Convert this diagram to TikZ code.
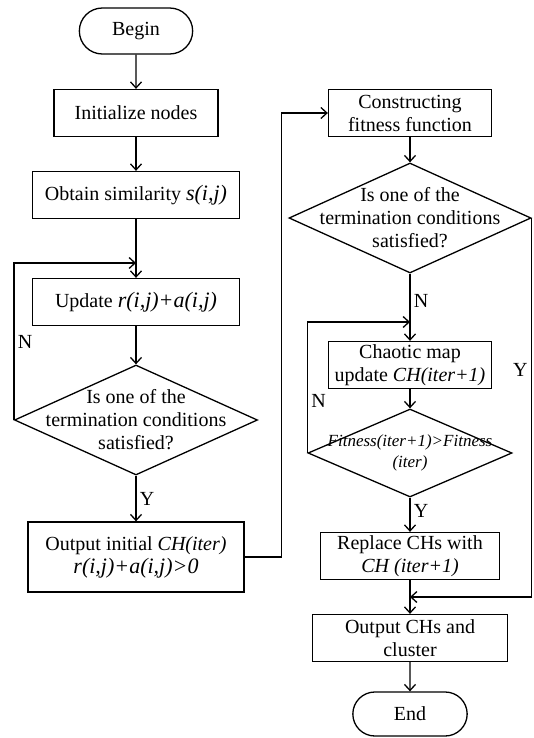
\documentclass[tikz,border=0pt]{standalone}
\usepackage{fontspec}
\setmainfont{Liberation Serif}
\usetikzlibrary{shapes.geometric, shapes.misc, arrows.meta}

\newcommand{\eqn}[1]{{\fontsize{22}{24}\selectfont\itshape #1}}

\begin{document}
\begin{tikzpicture}[
  x=1pt, y=-1pt,
  font=\fontsize{20}{23}\selectfont,
  proc/.style={draw, line width=1.3pt, minimum width=#1, minimum height=47pt, align=center, inner sep=2pt},
  proc/.default=160pt,
  term/.style={draw, rounded rectangle, line width=1.3pt, minimum width=120pt, minimum height=46pt},
  dec/.style={draw, diamond, line width=1.3pt, inner sep=0pt},
  arr/.style={-{Straight Barb[length=6pt, width=11pt]}, line width=1.3pt},
]
\useasboundingbox (0,0) rectangle (533,738);

% Left column
\node[term] (begin) at (136,31) {Begin};
\node[proc=164pt] (init) at (136,113) {Initialize nodes};
\node[proc=207pt] (sim) at (136,195) {Obtain similarity \eqn{s(i,j)}};
\node[proc=207pt] (upd) at (136,302) {Update \eqn{r(i,j)+a(i,j)}};
\node[dec, minimum width=243pt, minimum height=110pt,
  label={[align=center]center:Is one of the\\termination conditions\\satisfied?}] (d1) at (136,420) {};
\node[proc=216pt, minimum height=70pt] (out1) at (136,557) {Output initial \textit{CH(iter)}\\\eqn{r(i,j)+a(i,j)>0}};

% Right column
\node[proc=163pt] (fit) at (410,113) {Constructing\\fitness function};
\node[dec, minimum width=242pt, minimum height=110pt,
  label={[align=center]center:Is one of the\\termination conditions\\satisfied?}] (d2) at (410,218) {};
\node[proc=163pt] (chaos) at (410,365) {Chaotic map\\update \textit{CH(iter+1)}};
\node[dec, minimum width=204pt, minimum height=88pt,
  label={[align=center, font=\fontsize{17}{21}\selectfont\itshape]center:Fitness(iter+1)>Fitness\\(iter)}] (d3) at (410,453) {};
\node[proc=179pt] (repl) at (410,556) {Replace CHs with\\\textit{CH (iter+1)}};
\node[proc=195pt] (outc) at (410,638) {Output CHs and\\cluster};
\node[term, minimum width=121pt, minimum height=44pt] (end) at (410,714) {End};

% Joins
\coordinate (m1) at (136,263);
\coordinate (m2) at (410,322);
\coordinate (m3) at (410,597);

% Arrows
\draw[arr] (begin) -- (init);
\draw[arr] (init) -- (sim);
\draw[arr] (sim) -- (upd);
\draw[arr] (upd) -- (d1);
\draw[arr] (d1) -- node[right] {Y} (out1);
\draw[arr] (d1.west) |- node[pos=0.25, right] {N} (m1);
\draw[arr] (out1.east) -- ++(37,0) |- (fit.west);
\draw[arr] (fit) -- (d2);
\draw[arr] (d2) -- node[pos=0.4, right] {N} (chaos);
\draw[arr] (chaos) -- (d3);
\draw[arr] (d3.west) |- node[pos=0.2, right] {N} (m2);
\draw[arr] (d3) -- node[pos=0.4, right] {Y} (repl);
\draw[arr] (d2.east) |- node[pos=0.2, left] {Y} (m3);
\draw[arr] (repl) -- (outc);
\draw[arr] (outc) -- (end);

\end{tikzpicture}
\end{document}
